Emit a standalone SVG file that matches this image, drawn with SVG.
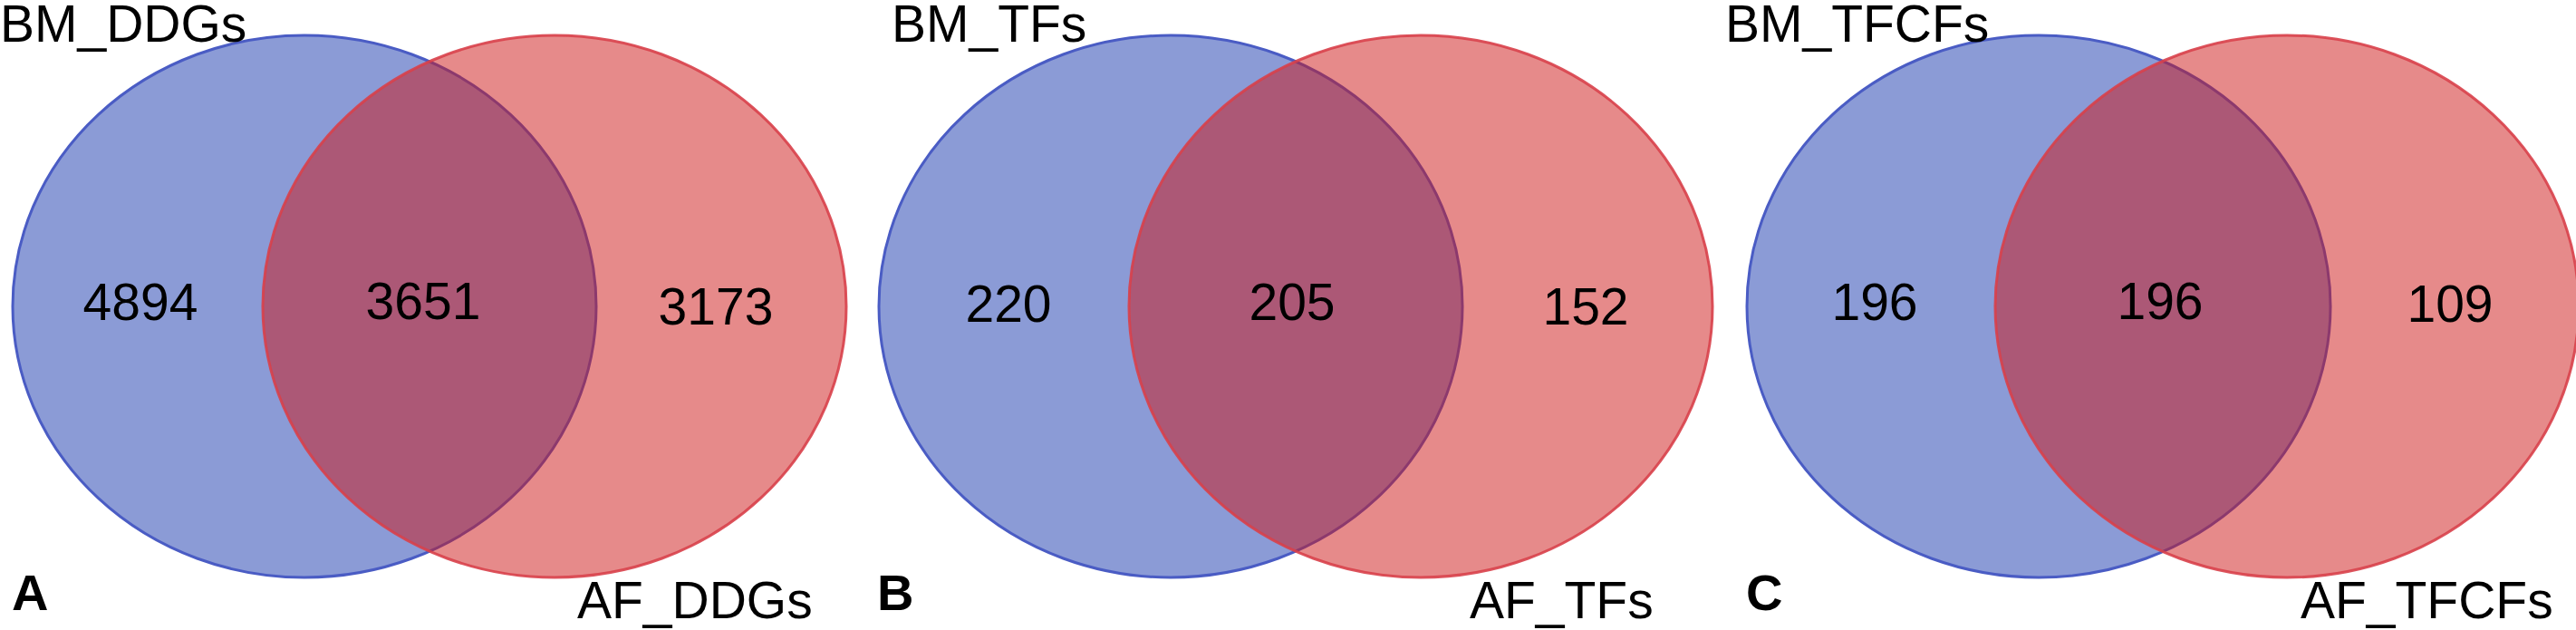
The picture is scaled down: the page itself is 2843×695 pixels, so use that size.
<svg xmlns="http://www.w3.org/2000/svg" width="2843" height="695" viewBox="0 0 2843 695">
<style>
.bg{fill:#ffffff}
.blue{fill:#1737AD;fill-opacity:0.5;stroke:#4A5CC4;stroke-width:3}
.red{fill:#CD1515;fill-opacity:0.5;stroke:#D8404A;stroke-width:3;stroke-opacity:0.9}
.t{font-family:"Liberation Sans",Arial,sans-serif;font-size:57px;fill:#000}
.n{font-family:"Liberation Sans",Arial,sans-serif;font-size:57px;fill:#000;text-anchor:middle}
.p{font-family:"Liberation Sans",Arial,sans-serif;font-size:56px;font-weight:bold;fill:#000}
</style>
<rect class="bg" x="0" y="0" width="2843" height="695"/>
<g id="panelA">
  <g id="A_BM"><ellipse class="blue" cx="336" cy="338" rx="322" ry="299"/></g>
  <g id="A_AF"><ellipse class="red" cx="612" cy="338" rx="322" ry="299"/></g>
  <text class="t" x="0" y="46">BM_DDGs</text>
  <text class="t" x="637" y="682">AF_DDGs</text>
  <text class="n" x="155" y="353">4894</text>
  <text class="n" x="467" y="352">3651</text>
  <text class="n" x="790" y="358">3173</text>
  <text class="p" x="13" y="673">A</text>
</g>
<g id="panelB">
  <g id="B_BM"><ellipse class="blue" cx="1292" cy="338" rx="322" ry="299"/></g>
  <g id="B_AF"><ellipse class="red" cx="1568" cy="338" rx="322" ry="299"/></g>
  <text class="t" x="984" y="46">BM_TFs</text>
  <text class="t" x="1622" y="682">AF_TFs</text>
  <text class="n" x="1113" y="355">220</text>
  <text class="n" x="1426" y="353">205</text>
  <text class="n" x="1750" y="358">152</text>
  <text class="p" x="968" y="673">B</text>
</g>
<g id="panelC">
  <g id="C_BM"><ellipse class="blue" cx="2250" cy="338" rx="322" ry="299"/></g>
  <g id="C_AF"><ellipse class="red" cx="2524" cy="338" rx="322" ry="299"/></g>
  <text class="t" x="1904" y="46">BM_TFCFs</text>
  <text class="t" x="2539" y="682">AF_TFCFs</text>
  <text class="n" x="2069" y="353">196</text>
  <text class="n" x="2384" y="352">196</text>
  <text class="n" x="2704" y="355">109</text>
  <text class="p" x="1927" y="673">C</text>
</g>
<g id="connectors"></g>
</svg>
